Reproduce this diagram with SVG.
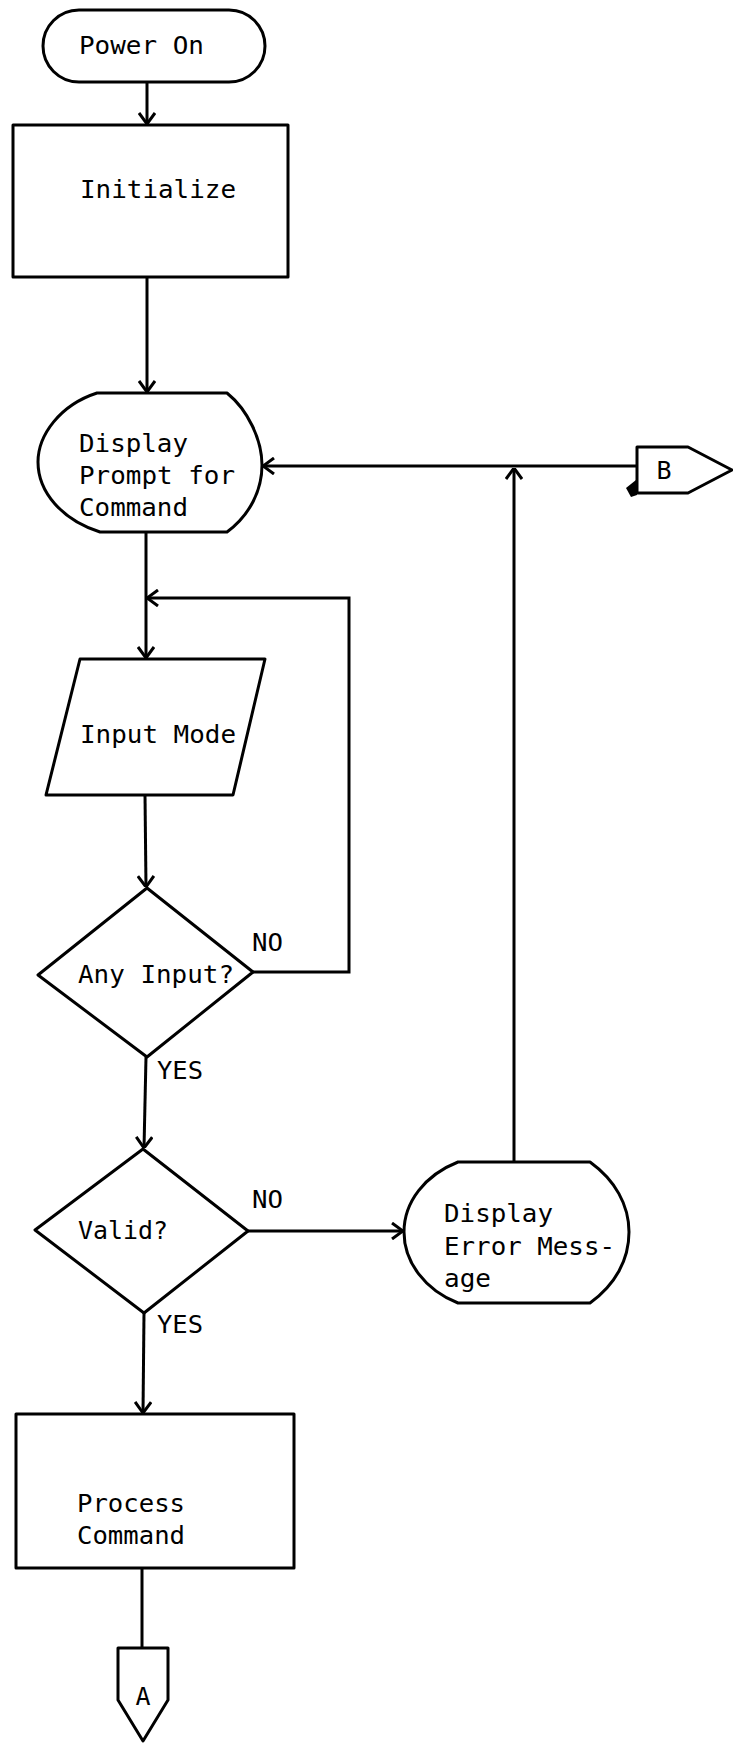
<svg xmlns="http://www.w3.org/2000/svg" width="733" height="1744" viewBox="0 0 733 1744">
<style>
.s{fill:#fff;stroke:#000;stroke-width:3;stroke-linejoin:round}
.c{fill:none;stroke:#000;stroke-width:3}
.t{font-family:"DejaVu Sans Mono","Liberation Mono",monospace;font-size:25px;fill:#000}
</style>
<defs>
<marker id="arr" viewBox="0 0 12 18" refX="12" refY="9" markerWidth="12" markerHeight="18" markerUnits="userSpaceOnUse" orient="auto">
<path d="M1,1 L12,9 L1,17" fill="none" stroke="#000" stroke-width="3"/>
</marker>
</defs>
<rect width="733" height="1744" fill="#fff"/>
<g id="connectors">
<path class="c" d="M147,82 L147,124" marker-end="url(#arr)"/>
<path class="c" d="M147,277 L147,392" marker-end="url(#arr)"/>
<path class="c" d="M146,532 L146,658" marker-end="url(#arr)"/>
<path class="c" d="M253,972 L349,972 L349,598 L147,598" marker-end="url(#arr)"/>
<path class="c" d="M145,795 L146,887" marker-end="url(#arr)"/>
<path class="c" d="M146,1057 L144,1148" marker-end="url(#arr)"/>
<path class="c" d="M248,1231 L403,1231" marker-end="url(#arr)"/>
<path class="c" d="M514,1162 L514,468" marker-end="url(#arr)"/>
<path class="c" d="M637,466 L263,466" marker-end="url(#arr)"/>
<path class="c" d="M144,1313 L143,1413" marker-end="url(#arr)"/>
<path class="c" d="M142,1568 L142,1648"/>
</g>
<g id="power-on">
<rect class="s" x="43" y="10" width="222" height="72" rx="36"/>
<text class="t" x="79" y="54" textLength="125" lengthAdjust="spacingAndGlyphs">Power On</text>
</g>
<g id="initialize">
<rect class="s" x="13" y="125" width="275" height="152"/>
<text class="t" x="80" y="198" textLength="156" lengthAdjust="spacingAndGlyphs">Initialize</text>
</g>
<g id="display-prompt">
<path class="s" d="M97,393 L227,393 C248,410 262,440 262,465 C262,490 250,515 227,532 L100,532 C62,520 38,492 38,462 C38,435 60,405 97,393 Z"/>
<text class="t" x="79" y="452" textLength="109" lengthAdjust="spacingAndGlyphs">Display</text>
<text class="t" x="79" y="484" textLength="156" lengthAdjust="spacingAndGlyphs">Prompt for</text>
<text class="t" x="79" y="516" textLength="109" lengthAdjust="spacingAndGlyphs">Command</text>
</g>
<g id="connector-b">
<path class="s" d="M637,447 L688,447 L732,470 L688,493 L637,493 Z"/>
<path d="M636,480 L626,488 L631,497 L637,495 Z" fill="#000"/>
<text class="t" x="664" y="479" text-anchor="middle">B</text>
</g>
<g id="input-mode">
<path class="s" d="M80,659 L265,659 L233,795 L46,795 Z"/>
<text class="t" x="80" y="743" textLength="156" lengthAdjust="spacingAndGlyphs">Input Mode</text>
</g>
<g id="any-input">
<path class="s" d="M147,888 L253,972 L147,1057 L38,975 Z"/>
<text class="t" x="78" y="983" textLength="156" lengthAdjust="spacingAndGlyphs">Any Input?</text>
<text class="t" x="252" y="951" textLength="31" lengthAdjust="spacingAndGlyphs">NO</text>
<text class="t" x="157" y="1079" textLength="46" lengthAdjust="spacingAndGlyphs">YES</text>
</g>
<g id="valid">
<path class="s" d="M143,1149 L248,1231 L144,1313 L35,1230 Z"/>
<text class="t" x="78" y="1239" textLength="90" lengthAdjust="spacingAndGlyphs">Valid?</text>
<text class="t" x="252" y="1208" textLength="31" lengthAdjust="spacingAndGlyphs">NO</text>
<text class="t" x="157" y="1333" textLength="46" lengthAdjust="spacingAndGlyphs">YES</text>
</g>
<g id="error-message">
<path class="s" d="M458,1162 L590,1162 C615,1180 629,1205 629,1232 C629,1260 615,1285 590,1303 L458,1303 C425,1290 404,1262 404,1232 C404,1202 425,1175 458,1162 Z"/>
<text class="t" x="444" y="1222" textLength="109" lengthAdjust="spacingAndGlyphs">Display</text>
<text class="t" x="444" y="1255" textLength="171" lengthAdjust="spacingAndGlyphs">Error Mess-</text>
<text class="t" x="444" y="1287" textLength="47" lengthAdjust="spacingAndGlyphs">age</text>
</g>
<g id="process-command">
<rect class="s" x="16" y="1414" width="278" height="154"/>
<text class="t" x="77" y="1512" textLength="108" lengthAdjust="spacingAndGlyphs">Process</text>
<text class="t" x="77" y="1544" textLength="108" lengthAdjust="spacingAndGlyphs">Command</text>
</g>
<g id="connector-a">
<path class="s" d="M118,1648 L168,1648 L168,1700 L143,1741 L118,1700 Z"/>
<text class="t" x="143" y="1705" text-anchor="middle">A</text>
</g>
</svg>
